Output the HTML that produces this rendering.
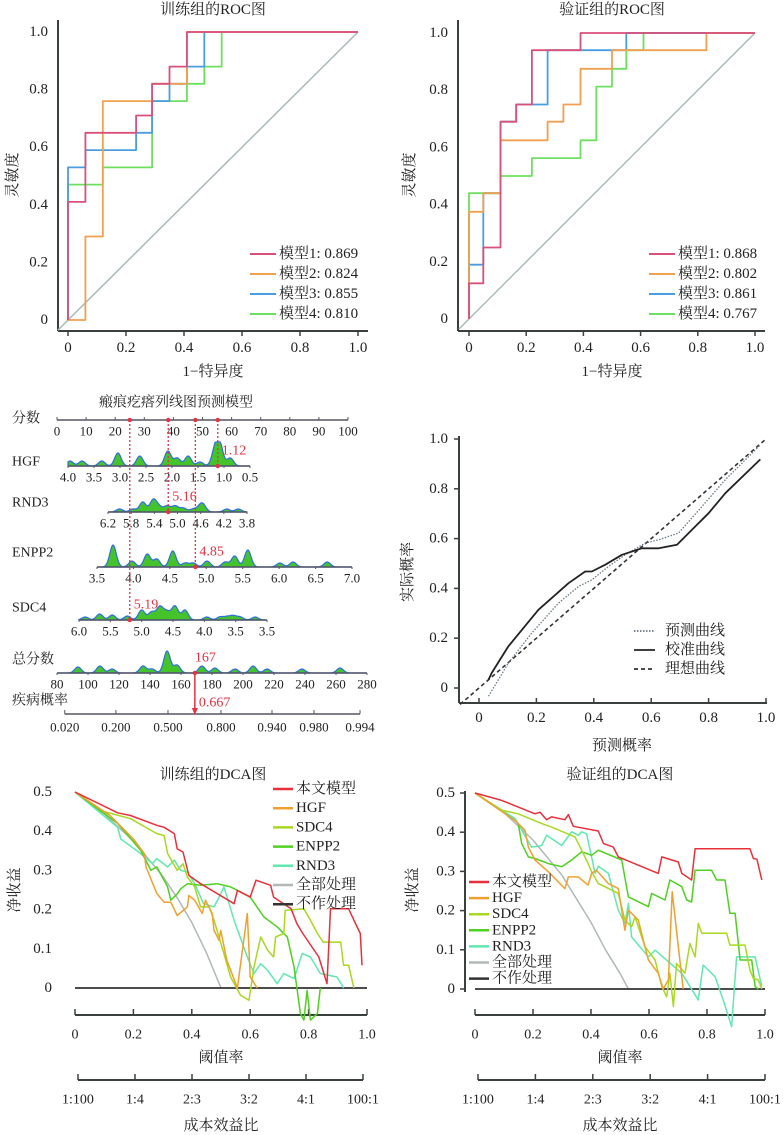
<!DOCTYPE html>
<html><head><meta charset="utf-8">
<style>
html,body{margin:0;padding:0;background:#fff;}
svg{display:block;font-family:"Liberation Serif","Noto Serif CJK SC",serif;}
</style></head>
<body>
<svg id="fig" width="784" height="1135" viewBox="0 0 784 1135" xmlns="http://www.w3.org/2000/svg"></svg>
<script>
// ---------- ROC data ----------
const rocTrainM1x=[0,0,.06,.06,.235,.235,.29,.29,.35,.35,.41,.41,1];
const rocTrainM1y=[0,.41,.41,.65,.65,.71,.71,.82,.82,.88,.88,1,1];
const rocTrainM2x=[0,.06,.06,.12,.12,.29,.29,.41,.41,1];
const rocTrainM2y=[0,0,.29,.29,.76,.76,.82,.82,1,1];
const rocTrainM3x=[0,0,.06,.06,.235,.235,.29,.29,.35,.35,.41,.41,.47,.47,1];
const rocTrainM3y=[0,.53,.53,.59,.59,.65,.65,.76,.76,.82,.82,.88,.88,1,1];
const rocTrainM4x=[0,0,.12,.12,.29,.29,.41,.41,.47,.47,.53,.53,1];
const rocTrainM4y=[0,.47,.47,.53,.53,.76,.76,.82,.82,.88,.88,1,1];
const rocTrainLabels=["模型1: 0.869","模型2: 0.824","模型3: 0.855","模型4: 0.810"];
const rocValM1x=[0,0,.05,.05,.11,.11,.165,.165,.22,.22,.39,.39,1];
const rocValM1y=[0,.125,.125,.25,.25,.69,.69,.75,.75,.94,.94,1,1];
const rocValM2x=[0,0,.05,.05,.11,.11,.275,.275,.33,.33,.39,.39,.5,.5,.83,.83,1];
const rocValM2y=[0,.375,.375,.44,.44,.625,.625,.69,.69,.75,.75,.875,.875,.94,.94,1,1];
const rocValM3x=[0,0,.05,.05,.11,.11,.165,.165,.275,.275,.55,.55,1];
const rocValM3y=[0,.19,.19,.44,.44,.69,.69,.75,.75,.94,.94,1,1];
const rocValM4x=[0,0,.11,.11,.22,.22,.39,.39,.445,.445,.5,.5,.55,.55,.61,.61,1];
const rocValM4y=[0,.44,.44,.5,.5,.5625,.5625,.625,.625,.8125,.8125,.875,.875,.94,.94,1,1];
const rocValLabels=["模型1: 0.868","模型2: 0.802","模型3: 0.861","模型4: 0.767"];
const rocTicks=[0,0.2,0.4,0.6,0.8,1.0];
const rocTickLabels=["0","0.2","0.4","0.6","0.8","1.0"];

// ---------- Nomogram data ----------
const pointsTicks=[0,10,20,30,40,50,60,70,80,90,100];
const hgfTicks=[4.0,3.5,3.0,2.5,2.0,1.5,1.0,0.5];
const hgfBumpV=[3.96,3.73,3.35,3.04,2.62,2.08,1.9,1.69,1.46,1.17,1.08,0.88];
const hgfBumpH=[5,5,5,13,10,15,8,10,4,17,20,8];
const rnd3Ticks=[6.2,5.8,5.4,5.0,4.6,4.2,3.8];
const rnd3BumpV=[6.0,5.77,5.6,5.42,5.32,5.18,5.04,4.9,4.73,4.61,4.56,4.15,3.95];
const rnd3BumpH=[3,3,10,12,5,6,6,4,3,4,6,3,3];
const enppTicks=[3.5,4.0,4.5,5.0,5.5,6.0,6.5,7.0];
const enppBumpV=[3.72,3.98,4.19,4.32,4.54,4.71,4.82,5.01,5.26,5.39,5.57,6.01,6.19,6.66];
const enppBumpH=[22,6,13,8,16,4,4,6,5,11,17,4,5,5];
const sdcTicks=[6.0,5.5,5.0,4.5,4.0,3.5,3.0];
const sdcTickLabels=["6.0","5.5","5.0","4.5","4.0","3.5","3.5"];
const sdcBumpV=[5.9,5.67,5.47,5.23,5.0,4.84,4.71,4.6,4.47,4.31,3.96,3.75,3.64,3.54,3.43,3.19];
const sdcBumpH=[3,6,5,4,10,8,13,8,14,10,3,3,3,4,3,3];
const totalTicks=[80,100,120,140,160,180,200,220,240,260,280];
const totalBumpV=[93.5,107.7,115.5,135.5,141.3,151,157.4,173.5,181.9,194.8,206.5,215.5,238,262.6];
const totalBumpH=[6,7,4,7,4,22,8,7,5,4,7,4,4,5];
const riskTickScores=[85,118,151.6,185.8,218.7,245.8,275.5];
const riskTickLabels=["0.020","0.200","0.500","0.800","0.940","0.980","0.994"];
const patientValues=[1.12,5.16,4.85,5.19];
const patientTotal=167;
const patientRisk="0.667";

// ---------- Calibration data ----------
const calPredX=[.033,.102,.184,.277,.347,.393,.451,.509,.579,.626,.695,.777,.858,.98];
const calPredY=[-.033,.1,.221,.341,.408,.434,.488,.535,.582,.595,.622,.729,.836,.976];
const calCalX=[.033,.044,.102,.207,.312,.37,.393,.44,.498,.567,.626,.69,.753,.8,.858,.98];
const calCalY=[.033,.06,.167,.314,.421,.468,.468,.495,.535,.561,.561,.575,.648,.702,.782,.918];
const calIdealX=[-.066,1];
const calIdealY=[-.066,1];

// ---------- DCA train data ----------
const dcaTModelX=[0,.146,.19,.28,.305,.34,.35,.37,.39,.43,.545,.556,.6,.62,.67,.68,.74,.76,.78,.835,.863,.875,.937,.955,.977,.983];
const dcaTModelY=[.5,.447,.44,.415,.41,.394,.355,.347,.287,.266,.215,.249,.232,.275,.262,.232,.202,.164,.139,.079,.011,.202,.202,.173,.139,.058];
const dcaTHgfX=[0,.12,.2,.237,.243,.28,.305,.328,.35,.385,.39,.41,.436,.447,.47,.476,.493,.499,.52,.556,.59,.6,.624];
const dcaTHgfY=[.5,.44,.38,.343,.309,.241,.219,.219,.185,.207,.236,.224,.19,.224,.19,.147,.122,.147,.071,0,.19,.028,0];
const dcaTSdcX=[0,.1,.19,.28,.305,.317,.35,.37,.385,.41,.43,.46,.476,.51,.533,.567,.596,.613,.636,.66,.68,.687,.715,.72,.784,.806,.83,.85,.91,.92,.937,.955];
const dcaTSdcY=[.5,.45,.432,.394,.389,.343,.3,.317,.283,.258,.207,.207,.173,.088,.028,-.019,-.031,.054,.13,.096,.079,.13,.139,.198,.202,.173,.139,.117,.117,.058,.058,0];
const dcaTEnpX=[0,.146,.225,.26,.28,.317,.328,.35,.362,.385,.43,.487,.533,.556,.6,.647,.692,.727,.75,.772,.784,.795,.806,.83,.84];
const dcaTEnpY=[.5,.42,.351,.3,.309,.258,.224,.24,.253,.266,.262,.266,.258,.249,.232,.181,.156,.13,.054,-.065,-.082,-.006,-.082,-.065,0];
const dcaTRndX=[0,.146,.157,.225,.265,.28,.317,.34,.362,.385,.41,.44,.476,.5,.51,.545,.59,.613,.636,.66,.692,.715,.75,.778,.806,.84,.897,.92];
const dcaTRndY=[.5,.41,.38,.343,.317,.33,.309,.326,.3,.296,.266,.215,.207,.241,.258,.173,.079,.037,.062,.045,.011,.037,.024,.088,.079,.037,.028,0];
const dcaTAllX=[0,.1,.2,.3,.35,.4,.45,.5];
const dcaTAllY=[.5,.444,.375,.286,.23,.167,.09,0];
const dcaNoneX=[0,1];
const dcaNoneY=[0,0];

// ---------- DCA validation data ----------
const dcaVModelX=[0,.092,.207,.224,.247,.264,.31,.322,.339,.425,.443,.477,.494,.632,.644,.701,.713,.747,.759,.948,.96,.972,.989];
const dcaVModelY=[.5,.481,.447,.451,.432,.439,.432,.445,.415,.403,.371,.362,.337,.295,.337,.324,.295,.278,.358,.358,.333,.331,.278];
const dcaVHgfX=[0,.138,.172,.184,.207,.253,.31,.322,.356,.39,.402,.419,.46,.494,.517,.529,.563,.586,.598,.632,.649,.667,.68,.701,.718];
const dcaVHgfY=[.5,.43,.405,.362,.329,.299,.256,.286,.286,.265,.295,.303,.269,.256,.15,.201,.176,.108,.074,.04,0,.023,.248,.108,0];
const dcaVSdcX=[0,.092,.149,.23,.264,.345,.368,.39,.402,.425,.448,.494,.517,.54,.552,.586,.621,.644,.661,.672,.684,.695,.724,.741,.759,.77,.782,.868,.879,.931,.948,.96,.977,.989];
const dcaVSdcY=[.5,.456,.447,.422,.413,.388,.354,.32,.299,.269,.261,.244,.176,.159,.184,.108,.074,.006,-.02,.04,-.045,.065,.04,.116,.082,.167,.142,.142,.112,.112,.048,.027,.023,0];
const dcaVEnpX=[0,.138,.149,.161,.184,.207,.253,.299,.333,.368,.402,.425,.506,.529,.598,.609,.655,.672,.713,.73,.747,.759,.816,.833,.862,.879,.897,.914,.954,.966,.977];
const dcaVEnpY=[.5,.43,.422,.371,.337,.333,.32,.312,.329,.35,.341,.354,.329,.235,.21,.244,.227,.278,.261,.227,.222,.303,.303,.278,.278,.193,.193,.074,.074,.006,0];
const dcaVRndX=[0,.138,.195,.23,.247,.299,.333,.356,.368,.385,.414,.425,.46,.494,.517,.529,.54,.598,.621,.713,.77,.787,.828,.856,.885,.902,.966,.989];
const dcaVRndY=[.5,.435,.362,.366,.392,.366,.401,.392,.401,.396,.295,.313,.295,.201,.167,.218,.133,.082,.099,.04,-.028,.061,.031,-.028,-.096,.082,.082,.006];
const dcaVAllX=[0,.1,.2,.3,.4,.45,.5,.529];
const dcaVAllY=[.5,.45,.38,.29,.17,.1,.04,0];
const dcaLegendLabels=["本文模型","HGF","SDC4","ENPP2","RND3","全部处理","不作处理"];
const dcaXTickLabels=["0","0.2","0.4","0.6","0.8","1.0"];
const dcaYTicks=[0,0.1,0.2,0.3,0.4,0.5];
const dcaYTickLabels=["0","0.1","0.2","0.3","0.4","0.5"];
const costLabels=["1:100","1:4","2:3","3:2","4:1","100:1"];

// ---------- helpers ----------
const NS='http://www.w3.org/2000/svg';
const svg=document.getElementById('fig');
function mk(tag,attrs,parent){const e=document.createElementNS(NS,tag);for(const k in attrs)e.setAttribute(k,attrs[k]);(parent||svg).appendChild(e);return e;}
function txt(x,y,s,size,anchor,fill,parent){const e=mk('text',{x:x,y:y,'font-size':size,'text-anchor':anchor||'middle','dominant-baseline':'central',fill:fill||'#222'},parent);e.textContent=s;return e;}
function ln(x1,y1,x2,y2,stroke,w,parent){return mk('line',{x1:x1,y1:y1,x2:x2,y2:y2,stroke:stroke||'#333','stroke-width':w||1.5},parent);}
function poly(xs,ys,fx,fy,stroke,w,dash,parent){let d='';for(let i=0;i<xs.length;i++){d+=(i?'L':'M')+fx(xs[i]).toFixed(1)+','+fy(ys[i]).toFixed(1);}const a={d:d,fill:'none',stroke:stroke,'stroke-width':w||1.5,'stroke-linejoin':'round'};if(dash)a['stroke-dasharray']=dash;return mk('path',a,parent);}
function lin(d0,d1,r0,r1){return v=>r0+(v-d0)/(d1-d0)*(r1-r0);}
const AX='#3a4040';

// ---------- ROC ----------
function drawROC(cfg,series,labels){
  const g=mk('g',{});
  
  
  const fx=lin(0,1,cfg.x0,cfg.x1), fy=lin(0,1,cfg.y0,cfg.y1);
  const t=txt((cfg.x0+cfg.x1)/2,10,cfg.title,15,'middle','#222',g);
  
  
  const ya=ln(cfg.ax,20,cfg.ax,331,AX,2,g);
  
  
  const xa=ln(cfg.ax,331,cfg.x1+10,331,AX,2,g);
  
  
  rocTicks.forEach((v,i)=>{
    const tk=ln(fx(v),331,fx(v),336,AX,1.5,g);
    
    
    const xl=txt(fx(v),348,rocTickLabels[i],15,'middle','#222',g);
    
    
    const yl=txt(cfg.ax-10,fy(v),rocTickLabels[i],15,'end','#222',g);
    
    
  });
  const xt=txt((cfg.x0+cfg.x1)/2,372,'1−特异度',15,'middle','#222',g);
  
  
  const yt=txt(0,0,'灵敏度',15,'middle','#222',g);
  yt.setAttribute('transform','translate('+cfg.ytx+',175) rotate(-90)');
  
  
  const dg=poly([-0.035,1],[-0.035,1],fx,fy,'#a9b9b9',1.5,null,g);
  
  
  const cols=['#d9507a','#f0a050','#4a9de0','#6ee060'];
  [3,2,1,0].forEach(k=>{
    const p=poly(series[k][0],series[k][1],fx,fy,cols[k],1.8,null,g);
    
    
  });
  labels.forEach((s,k)=>{
    const y=cfg.ly+k*20;
    const l=ln(cfg.lx,y,cfg.lx+26,y,cols[k],2,g);
    
    
    const lt=txt(cfg.lx+29,y,s,15,'start','#222',g);
    
    
  });
}
drawROC({name:'roc-train-chart',title:'训练组的ROC图',x0:68,x1:358,y0:320,y1:32,ax:58,ytx:13,lx:250,ly:254},
  [[rocTrainM1x,rocTrainM1y],[rocTrainM2x,rocTrainM2y],[rocTrainM3x,rocTrainM3y],[rocTrainM4x,rocTrainM4y]],rocTrainLabels);
drawROC({name:'roc-validation-chart',title:'验证组的ROC图',x0:469,x1:755,y0:319,y1:33,ax:458,ytx:410,lx:649,ly:254},
  [[rocValM1x,rocValM1y],[rocValM2x,rocValM2y],[rocValM3x,rocValM3y],[rocValM4x,rocValM4y]],rocValLabels);

// ---------- Nomogram ----------
(function(){
  const g=mk('g',{});
  
  
  const tt=txt(176,403,'瘢痕疙瘩列线图预测模型',14,'middle','#222',g);
  
  
  function axis(name,label,labelY,axY,d0,d1,r0,r1,ticks,tickLabels,bv,bh){
    const f=lin(d0,d1,r0,r1);
    const lb=txt(12,labelY,label,14,'start','#222',g);
    
    
    if(bv){
      const xa=Math.min(f(ticks[0]),f(ticks[ticks.length-1])), xb=Math.max(f(ticks[0]),f(ticks[ticks.length-1]));
      let d='M'+xa+','+axY;
      for(let x=xa;x<=xb;x+=1){let h=0;bv.forEach((v,i)=>{const c=f(v);h+=bh[i]*Math.exp(-Math.pow((x-c)/4.6,2));});d+='L'+x+','+(axY-Math.min(h,24)).toFixed(1);}
      d+='L'+xb+','+axY+'Z';
      const dp=mk('path',{d:d,fill:'#44c42a',stroke:'#2f6fe0','stroke-width':1.2},g);
      
      
    }
    const al=ln(Math.min(f(ticks[0]),f(ticks[ticks.length-1])),axY,Math.max(f(ticks[0]),f(ticks[ticks.length-1])),axY,'#556',1.5,g);
    
    
    ticks.forEach((v,i)=>{
      const tk=ln(f(v),axY,f(v),axY+(bv?2:-3),'#556',1,g);
      
      
      const tl=txt(f(v),axY+11,tickLabels[i],13,'middle','#222',g);
      
      
    });
    return f;
  }
  const fp=axis('points','分数',419,420,0,100,57,348,pointsTicks,pointsTicks.map(String),null,null);
  const fh=axis('hgf','HGF',462,466,4.0,0.5,68,250,hgfTicks,hgfTicks.map(v=>v.toFixed(1)),hgfBumpV,hgfBumpH);
  const fr=axis('rnd3','RND3',503,512,6.2,3.8,108,247,rnd3Ticks,rnd3Ticks.map(v=>v.toFixed(1)),rnd3BumpV,rnd3BumpH);
  const fe=axis('enpp2','ENPP2',553,567,3.5,7.0,97,352,enppTicks,enppTicks.map(v=>v.toFixed(1)),enppBumpV,enppBumpH);
  const fs=axis('sdc4','SDC4',608,620,6.0,3.0,79,267,sdcTicks,sdcTickLabels,sdcBumpV,sdcBumpH);
  const ft=axis('total-points','总分数',660,673,80,280,57,367,totalTicks,totalTicks.map(String),totalBumpV,totalBumpH);
  const rl=txt(12,701,'疾病概率',14,'start','#222',g);
  
  
  const ra=ln(ft(riskTickScores[0]),714,ft(riskTickScores[riskTickScores.length-1]),714,'#556',1.5,g);
  
  
  riskTickScores.forEach((s,i)=>{
    const tk=ln(ft(s),714,ft(s),710,'#556',1,g);
    
    
    const tl=txt(ft(s),727,riskTickLabels[i],13,'middle','#222',g);
    
    
  });
  const fns=[fh,fr,fe,fs], ys=[466,512,567,620], names=['hgf','rnd3','enpp2','sdc4'];
  patientValues.forEach((v,i)=>{
    const x=fns[i](v);
    const dl=ln(x,420,x,ys[i],'#e83040',1.3,g);
    dl.setAttribute('stroke-dasharray','2,2');
    
    
    const c1=mk('circle',{cx:x,cy:420,r:2.2,fill:'#e83040'},g);
    
    
    const c2=mk('circle',{cx:x,cy:ys[i],r:2.2,fill:'#e83040'},g);
    
    
    const vl=txt(x+4,ys[i]-15,String(v),14,'start','#e83040',g);
    
    
  });
  const tx=ft(patientTotal)+3;
  const tl=txt(tx,658,String(patientTotal),14,'start','#e83040',g);
  
  
  const ar=ln(tx,673,tx,710,'#e83040',1.5,g);
  
  
  const ah=mk('path',{d:'M'+(tx-3)+',708L'+(tx+3)+',708L'+tx+',715Z',fill:'#e83040'},g);
  
  
  const c3=mk('circle',{cx:tx,cy:673,r:2.2,fill:'#e83040'},g);
  
  
  const rv=txt(tx+4,703,patientRisk,14,'start','#e83040',g);
  
  
})();

// ---------- Calibration ----------
(function(){
  const g=mk('g',{});
  
  
  const fx=lin(0,1,479,766), fy=lin(0,1,688,439);
  const ya=ln(459,436,459,703,AX,2,g);
  
  
  const xa=ln(459,703,767,703,AX,2,g);
  
  
  rocTicks.forEach((v,i)=>{
    const tk=ln(fx(v),703,fx(v),698,AX,1.5,g);
    
    
    const xl=txt(fx(v),718,rocTickLabels[i],15,'middle','#222',g);
    
    
    const yk=ln(459,fy(v),454,fy(v),AX,1.5,g);
    
    
    const yl=txt(448,fy(v),rocTickLabels[i],15,'end','#222',g);
    
    
  });
  const xt=txt(622,746,'预测概率',15,'middle','#222',g);
  
  
  const yt=txt(0,0,'实际概率',15,'middle','#222',g);
  yt.setAttribute('transform','translate(408,572) rotate(-90)');
  
  
  const pi=poly(calIdealX,calIdealY,fx,fy,'#333',1.6,'4,3',g);
  
  
  const pp=poly(calPredX,calPredY,fx,fy,'#6a7a8a',1.3,'1.5,1.5',g);
  
  
  const pc=poly(calCalX,calCalY,fx,fy,'#222',1.8,null,g);
  
  
  const legs=[['预测曲线','#6a7a8a','1.5,1.5'],['校准曲线','#222',null],['理想曲线','#333','4,3']];
  legs.forEach((L,k)=>{
    const y=631+k*19;
    const l=ln(634,y,655,y,L[1],1.8,g);
    if(L[2]) l.setAttribute('stroke-dasharray',L[2]);
    
    
    const t=txt(665,y,L[0],15,'start','#222',g);
    
    
  });
})();

// ---------- DCA ----------
function drawDCA(cfg,series){
  const g=mk('g',{});
  
  
  const fx=lin(0,1,cfg.x0,cfg.x1), fy=lin(0,0.5,cfg.yz,cfg.yh);
  const t=txt((cfg.x0+cfg.x1)/2+cfg.tdx,775,cfg.title,15,'middle','#222',g);
  
  
  if(cfg.leftAxis){
    const ya=ln(cfg.ax,cfg.yh-2,cfg.ax,cfg.yz+3,AX,2,g);
    
    
  }
  dcaYTicks.forEach((v,i)=>{
    if(cfg.leftAxis){
      const yk=ln(cfg.ax,fy(v),cfg.ax-5,fy(v),AX,1.5,g);
      
      
    }
    const yl=txt(cfg.ylx,fy(v),dcaYTickLabels[i],15,'end','#222',g);
    
    
  });
  const yt=txt(0,0,'净收益',15,'middle','#222',g);
  yt.setAttribute('transform','translate('+cfg.ytx+',890) rotate(-90)');
  
  
  const xa=ln(cfg.x0,1015,cfg.x1,1015,AX,2,g);
  
  
  const ca=ln(cfg.c0,1080,cfg.c1,1080,AX,2,g);
  
  
  const fc=lin(0,1,cfg.c0,cfg.c1);
  rocTicks.forEach((v,i)=>{
    const tk=ln(fx(v),1015,fx(v),1009,AX,1.5,g);
    
    
    const xl=txt(fx(v),1035,dcaXTickLabels[i],14,'middle','#222',g);
    
    
    const ck=ln(fc(v),1080,fc(v),1074,AX,1.5,g);
    
    
    const cl=txt(fc(v),1100,costLabels[i],14,'middle','#222',g);
    
    
  });
  const xt=txt((cfg.x0+cfg.x1)/2,1058,'阈值率',15,'middle','#222',g);
  
  
  const ct=txt((cfg.x0+cfg.x1)/2,1126,'成本效益比',15,'middle','#222',g);
  
  
  const cols=['#e8303a','#f0a030','#a8d820','#50d020','#60e8b0','#b0b8b8','#333'];
  const names=['model-curve','hgf-curve','sdc4-curve','enpp2-curve','rnd3-curve','treat-all-curve','treat-none-line'];
  const order=[5,6,4,3,2,1,0];
  order.forEach(k=>{
    const p=poly(series[k][0],series[k][1],fx,fy,cols[k],k===6?1.8:1.5,null,g);
    
    
  });
  dcaLegendLabels.forEach((s,k)=>{
    const y=cfg.ly+k*cfg.ls;
    const l=ln(cfg.lx,y,cfg.lx+20,y,cols[k],2.5,g);
    
    
    const lt=txt(cfg.lx+23,y,s,15,'start','#222',g);
    
    
  });
}
drawDCA({name:'dca-train-chart',title:'训练组的DCA图',x0:75,x1:367,yz:988,yh:792,c0:78,c1:363,leftAxis:false,ax:66,ylx:52,ytx:15,lx:273,ly:789,ls:19.2,tdx:-8},
  [[dcaTModelX,dcaTModelY],[dcaTHgfX,dcaTHgfY],[dcaTSdcX,dcaTSdcY],[dcaTEnpX,dcaTEnpY],[dcaTRndX,dcaTRndY],[dcaTAllX,dcaTAllY],[dcaNoneX,dcaNoneY]]);
drawDCA({name:'dca-validation-chart',title:'验证组的DCA图',x0:475,x1:765,yz:989,yh:793,c0:478,c1:765,leftAxis:true,ax:465,ylx:455,ytx:413,lx:469,ly:882,ls:16.1,tdx:0},
  [[dcaVModelX,dcaVModelY],[dcaVHgfX,dcaVHgfY],[dcaVSdcX,dcaVSdcY],[dcaVEnpX,dcaVEnpY],[dcaVRndX,dcaVRndY],[dcaVAllX,dcaVAllY],[dcaNoneX,dcaNoneY]]);
</script>
</body></html>
